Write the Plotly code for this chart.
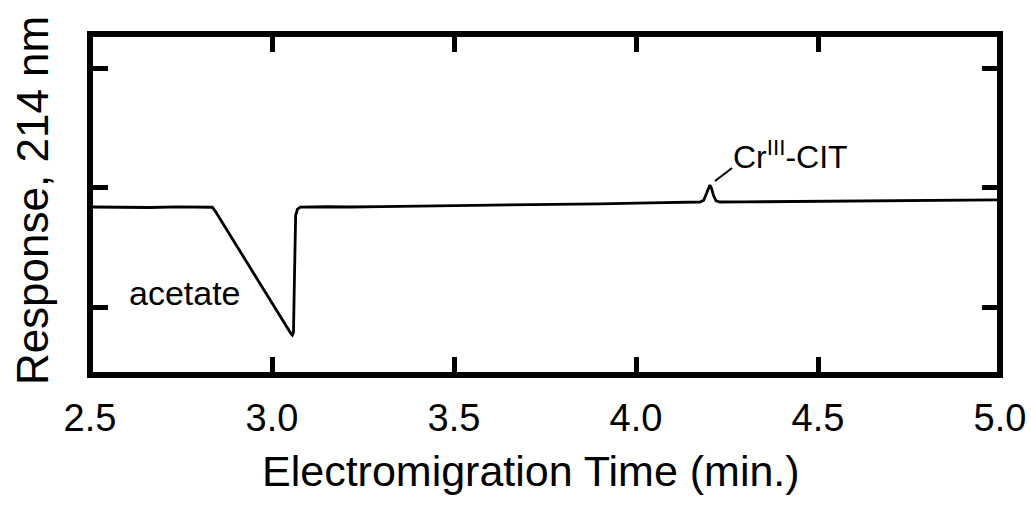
import plotly.graph_objects as go

# Electropherogram trace (time in min, response in arbitrary units)
time_min = [2.508, 2.60, 2.665, 2.74, 2.802, 2.828, 2.836, 2.844, 2.90, 2.95, 3.00, 3.040, 3.052, 3.056,
            3.059, 3.062, 3.065, 3.070, 3.078, 3.15, 3.214, 3.30, 3.40, 3.489, 3.60, 3.70, 3.764,
            3.90, 4.038, 4.12, 4.176, 4.186, 4.194, 4.200, 4.203, 4.207, 4.213, 4.220, 4.231,
            4.30, 4.40, 4.451, 4.55, 4.65, 4.725, 4.80, 4.90, 4.992]
response = [1.839, 1.836, 1.835, 1.840, 1.839, 1.841, 1.837, 1.805, 1.527, 1.283, 1.039, 0.843, 0.782, 0.770,
            0.790, 1.300, 1.770, 1.822, 1.838, 1.841, 1.839, 1.843, 1.846, 1.848, 1.852, 1.857, 1.860,
            1.866, 1.873, 1.878, 1.881, 1.895, 1.950, 2.005, 2.022, 2.000, 1.935, 1.890, 1.881,
            1.882, 1.884, 1.885, 1.888, 1.891, 1.894, 1.895, 1.897, 1.898]

x_ticks = [2.5, 3.0, 3.5, 4.0, 4.5, 5.0]
x_tick_labels = ["2.5", "3.0", "3.5", "4.0", "4.5", "5.0"]
y_ticks = [1, 2, 3]

x_range = [2.5, 5.0]
y_range = [0.436, 3.284]

x_title = "Electromigration Time (min.)"
y_title = "Response, 214 nm"

acetate_label = "acetate"
acetate_pos = (2.761, 1.121)
cr_label = "Cr<sup>III</sup>-CIT"
cr_pos = (4.424, 2.272)
leader = [(4.217, 2.056), (4.264, 2.165)]

FONT = "Liberation Sans, Arial, sans-serif"

fig = go.Figure()
fig.add_trace(go.Scatter(x=time_min, y=response, mode="lines",
                         line=dict(color="black", width=2.8), hoverinfo="skip"))

fig.add_annotation(x=acetate_pos[0], y=acetate_pos[1], text=acetate_label, showarrow=False,
                   font=dict(family=FONT, size=34, color="black"))
fig.add_annotation(x=cr_pos[0], y=cr_pos[1], text=cr_label, showarrow=False,
                   font=dict(family=FONT, size=32, color="black"))
fig.add_shape(type="line", xref="x", yref="y", x0=leader[0][0], y0=leader[0][1],
              x1=leader[1][0], y1=leader[1][1], line=dict(color="black", width=2))

# axis titles
fig.add_annotation(xref="paper", yref="paper", x=0.485, y=-0.281, text=x_title, showarrow=False,
                   xanchor="center", yanchor="middle",
                   font=dict(family=FONT, size=43, color="black"))
fig.add_annotation(xref="paper", yref="paper", x=-0.0637, y=0.510, text=y_title, showarrow=False,
                   textangle=-90, xanchor="center", yanchor="middle",
                   font=dict(family=FONT, size=44, color="black"))

# frame
fig.add_shape(type="rect", xref="paper", yref="paper", x0=0, y0=0, x1=1, y1=1,
              line=dict(color="black", width=6), layer="above")

fig.update_xaxes(range=x_range, tickvals=x_ticks, ticktext=x_tick_labels, automargin=False,
                 ticks="inside", ticklen=18, tickwidth=5, tickcolor="black", mirror="ticks",
                 showline=False, showgrid=False, zeroline=False, ticklabelstandoff=17,
                 tickfont=dict(family=FONT, size=38, color="black"))
fig.update_yaxes(range=y_range, tickvals=y_ticks, showticklabels=False, automargin=False,
                 ticks="inside", ticklen=18, tickwidth=5, tickcolor="black", mirror="ticks",
                 showline=False, showgrid=False, zeroline=False)

fig.update_layout(width=1031, height=506, margin=dict(l=90, r=31, t=34, b=131),
                  plot_bgcolor="white", paper_bgcolor="white", showlegend=False)

fig.write_html("out.html", config={"displayModeBar": False},
               post_script="document.body.style.margin='0';document.body.style.overflow='hidden';")
